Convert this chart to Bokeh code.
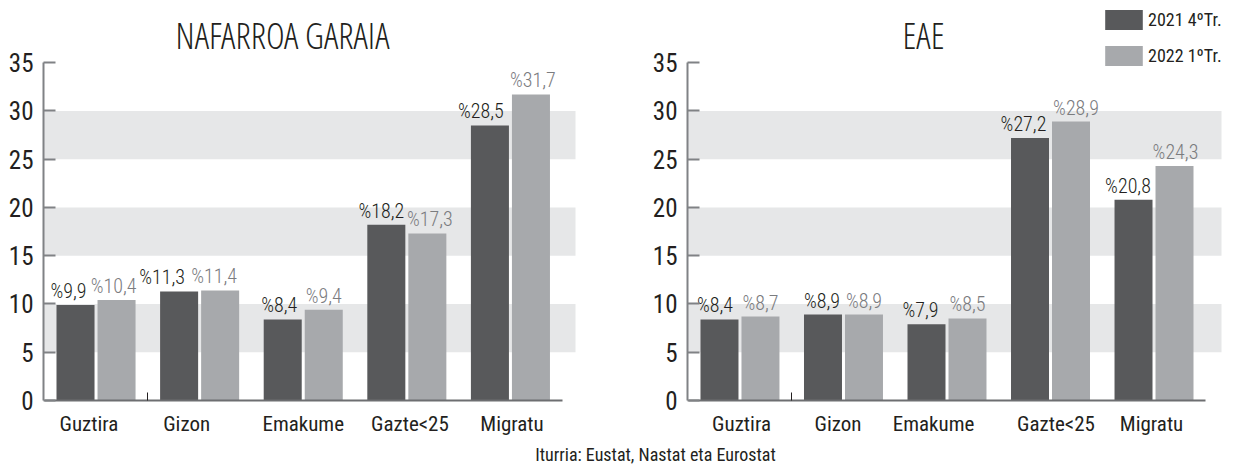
import numpy as np
from bokeh.plotting import figure
from bokeh.models import ColumnDataSource, FixedTicker, Label, Range1d, CustomJSTickFormatter
from bokeh.layouts import row, column
from bokeh.core.properties import value
from bokeh.embed import file_html
from bokeh.resources import INLINE

# ---------------- data ----------------
categories = ["Guztira", "Gizon", "Emakume", "Gazte<25", "Migratu"]
series_names = ["2021 4ºTr.", "2022 1ºTr."]
nafarroa_2021 = [9.9, 11.3, 8.4, 18.2, 28.5]
nafarroa_2022 = [10.4, 11.4, 9.4, 17.3, 31.7]
eae_2021 = [8.4, 8.9, 7.9, 27.2, 20.8]
eae_2022 = [8.7, 8.9, 8.5, 28.9, 24.3]
y_ticks = [0, 5, 10, 15, 20, 25, 30, 35]
band_bottoms = [5, 15, 25]
band_tops = [10, 20, 30]
titles = ["NAFARROA GARAIA", "EAE"]
source_text = "Iturria: Eustat, Nastat eta Eurostat"

# ---------------- style ----------------
DARK = "#58595b"
LIGHT = "#a7a9ac"
BAND = "#e6e7e8"
AXIS = "#808285"
BASE = "#6d6e71"
TXT = "#231f20"
TXT_LIGHT = "#7b7c7f"
FONT = "Roboto Condensed"
FONT_LIGHT = "Roboto Condensed Light"
TITLE_FONT = "Open Sans Condensed Light"
PX_PER_UNIT = 9.75
H = 438
BB = 34
OFF = 0.198
BW = 0.367


def pct(v):
    return "%" + f"{v:.1f}".replace(".", ",")


def panel(title, v_a, v_b, width, bl, br, x0, x1, title_x, cat_nudge, nud_a, nud_b, legend_loc=None):
    ytop = (H - BB) / PX_PER_UNIT
    p = figure(width=width, height=H, output_backend="svg", toolbar_location=None,
               x_range=Range1d(x0, x1), y_range=Range1d(0, ytop),
               min_border_left=bl, min_border_right=br, min_border_top=0, min_border_bottom=BB)
    p.grid.visible = False
    p.outline_line_color = None
    p.background_fill_color = "white"

    p.quad(left=x0 - 1, right=x1 + 1, bottom=band_bottoms, top=band_tops,
           fill_color=BAND, line_color=None)

    idx = np.arange(len(categories))
    xa = idx - OFF
    xb = idx + OFF
    kw_a = {"legend_label": series_names[0]} if legend_loc else {}
    kw_b = {"legend_label": series_names[1]} if legend_loc else {}
    p.vbar(x=xa, top=v_a, width=BW, fill_color=DARK, line_color=None, **kw_a)
    p.vbar(x=xb, top=v_b, width=BW, fill_color=LIGHT, line_color=None, **kw_b)

    for xs, vs, nud, col in ((xa, v_a, nud_a, TXT), (xb, v_b, nud_b, TXT_LIGHT)):
        src = ColumnDataSource(dict(x=list(xs), y=list(vs), t=[pct(v) for v in vs], dx=list(nud)))
        p.text(x="x", y="y", text="t", x_offset="dx", y_offset=-14, source=src,
               text_font=value(FONT_LIGHT), text_font_size="20px", text_align="center",
               text_baseline="middle", text_color=col)

    # y axis
    yax = p.yaxis[0]
    yax.ticker = FixedTicker(ticks=y_ticks)
    yax.bounds = (0, 35)
    yax.axis_line_color = AXIS
    yax.axis_line_width = 2
    yax.major_tick_in = 12
    yax.major_tick_out = 0
    yax.major_tick_line_color = AXIS
    yax.major_tick_line_width = 2
    yax.minor_tick_line_color = None
    yax.major_label_text_font = FONT
    yax.major_label_text_font_size = "25px"
    yax.major_label_text_color = TXT
    yax.major_label_standoff = 10

    # x axis
    xax = p.xaxis[0]
    ticks = [float(i + n) for i, n in enumerate(cat_nudge)]
    xax.ticker = FixedTicker(ticks=ticks, minor_ticks=[0.5])
    xax.formatter = CustomJSTickFormatter(args=dict(names=categories), code="return names[index];")
    xax.bounds = (-0.5, 4.5)
    xax.axis_line_color = BASE
    xax.axis_line_width = 2
    xax.major_tick_line_color = None
    xax.minor_tick_in = 8
    xax.minor_tick_out = 0
    xax.minor_tick_line_color = TXT
    xax.minor_tick_line_width = 1
    xax.major_label_text_font = FONT
    xax.major_label_text_font_size = "21px"
    xax.major_label_text_color = TXT
    xax.major_label_standoff = 5

    p.add_layout(Label(x=title_x, y=(404 - 35.5) / PX_PER_UNIT, text=title,
                       text_font=TITLE_FONT, text_font_size="36px", text_align="center",
                       text_baseline="middle", text_color=TXT))

    if legend_loc:
        lg = p.legend[0]
        lg.location = legend_loc
        lg.padding = 0
        lg.margin = 0
        lg.spacing = 11
        lg.glyph_width = 47
        lg.glyph_height = 25
        lg.label_height = 25
        lg.label_standoff = 1
        lg.border_line_color = None
        lg.background_fill_alpha = 0
        lg.label_text_font = FONT
        lg.label_text_font_size = "18px"
        lg.label_text_color = TXT
    return p


f1 = panel(titles[0], nafarroa_2021, nafarroa_2022, 620, 43, 45, -0.507, 4.628, 1.8,
           [-0.068, -0.125, 0.0, 0.03, 0.015],
           [-7, -17, -3.5, -5, -9], [-3, -6, 0, 2.5, 2])
f2 = panel(titles[1], eae_2021, eae_2022, 605, 67, 4, -0.507, 4.652, 1.773,
           [0.015, -0.053, -0.13, 0.053, -0.024],
           [-4.5, -1, -6, -6.5, -5.5], [0, 0, 0, 5, 1], legend_loc=(413, 332))

f3 = figure(width=1225, height=465 - H, output_backend="svg", toolbar_location=None,
            x_range=Range1d(0, 1225), y_range=Range1d(0, 465 - H),
            min_border_left=0, min_border_right=0, min_border_top=0, min_border_bottom=0)
f3.axis.visible = False
f3.grid.visible = False
f3.outline_line_color = None
f3.add_layout(Label(x=655, y=465 - 454, text=source_text, text_font=FONT, text_font_size="18px",
                    text_align="center", text_baseline="middle", text_color=TXT))

layout = column(row(f1, f2), f3)
open("out.html", "w").write(file_html(layout, INLINE))
